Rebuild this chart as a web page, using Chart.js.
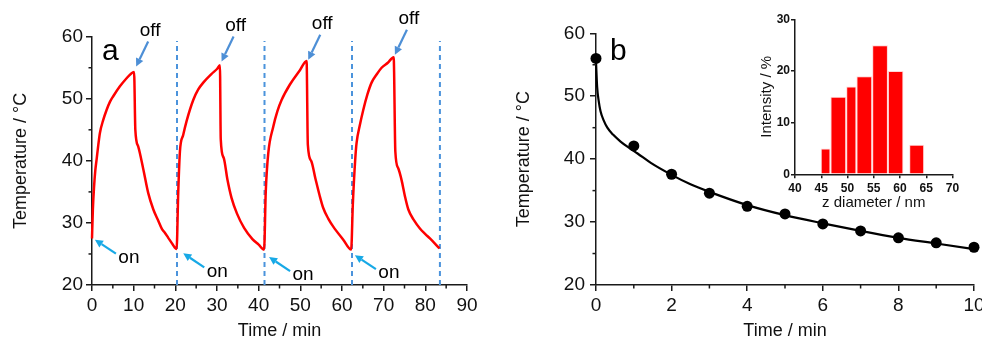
<!DOCTYPE html>
<html>
<head>
<meta charset="utf-8">
<script src="https://cdn.jsdelivr.net/npm/chart.js@4.4.1/dist/chart.umd.min.js"></script>
<style>
  html, body { margin: 0; padding: 0; background: #fff; overflow: hidden; }
  body { width: 982px; height: 338px; position: relative; }
  canvas { position: absolute; top: 0; }
  #chart-a { left: 0; }
  #chart-b { left: 490px; }
  #chart-inset { left: 740px; }
</style>
</head>
<body>
<canvas id="chart-a" width="490" height="345"></canvas>
<canvas id="chart-b" width="500" height="345"></canvas>
<canvas id="chart-inset" width="230" height="215"></canvas>
<script>
// panel a: laser on / off cycles
const cycleTime = [
  0, 0.2, 0.5, 0.8, 1.1, 1.5, 1.9, 2.7, 3.5, 4.3, 5.1, 6.7, 8.3, 9.3, 10.1,
  10.4, 11.1, 12.3, 13.5, 14.7, 15.8, 16.8, 17.4, 18.3, 19.3, 20.3,
  20.7, 21.1, 21.9, 22.7, 24.3, 25.5, 26.7, 28.7, 30.0, 30.7,
  30.9, 31.6, 32.5, 33.5, 34.8, 36.5, 38.5, 40.0, 41.3,
  41.7, 42.3, 43.5, 44.5, 45.5, 47.5, 49.9, 51.5,
  51.8, 52.6, 53.6, 54.6, 55.5, 56.7, 57.9, 60.3, 62.2,
  62.6, 63.2, 63.5, 64.3, 65.1, 66.1, 67.1, 68.3, 69.5, 71.0, 72.4,
  72.8, 73.5, 74.3, 75.1, 75.9, 77.3, 78.7, 80.0, 81.1, 83.4,
];
const cycleTemp = [
  27.5, 32, 35.9, 38.5, 40.2, 42.5, 44.5, 46.6, 48.2, 49.5, 50.4, 52, 53.3, 54, 54.3,
  45, 42.3, 38.7, 34.8, 32.2, 30.5, 29, 28.5, 27.6, 26.6, 25.8,
  35, 41.5, 44.2, 46.4, 49.8, 51.5, 52.6, 54, 54.8, 55.4,
  43.5, 40.5, 37, 34, 31.5, 29.2, 27.4, 26.5, 25.7,
  35, 41.2, 45.5, 48, 49.8, 52.3, 54.6, 56.1,
  42.6, 40, 37.2, 34.5, 32.4, 30.7, 29.4, 27.3, 25.7,
  33, 40.5, 42.9, 45.8, 48.2, 50.7, 52.6, 53.9, 55, 55.8, 56.7,
  41.5, 38.8, 36.9, 34.3, 32.2, 30.4, 29.1, 28.2, 27.5, 25.9,
];
const switchTimes = [20.4, 41.4, 62.4, 83.5];
const dashTop = 59.3;
const offTips = [[10.6, 55.2], [31.1, 56.0], [51.9, 56.3], [72.7, 57.1]];
const onTips = [[0.7, 27.3], [21.9, 25.1], [42.5, 24.5], [63.1, 24.8]];

// panel b: cooling after laser off
const coolTime = [0, 1, 2, 3, 4, 5, 6, 7, 8, 9, 10];
const coolTemp = [56, 42.1, 37.6, 34.6, 32.5, 31.3, 29.7, 28.6, 27.5, 26.7, 26.0];
const fitTime = [0, 0.03, 0.07, 0.12, 0.2, 0.3, 0.45, 0.65, 0.85, 1.1, 1.45, 2, 2.5, 3, 4, 5, 6, 7, 8, 9, 10];
const fitTemp = [55.5, 51.5, 49.3, 47.6, 46.2, 45.0, 43.9, 42.8, 41.9, 40.9, 39.4, 37.5, 36.0, 34.8, 32.7, 31.1, 29.8, 28.6, 27.5, 26.6, 25.7];

// inset: size distribution
const binStart = [44.9, 46.75, 49.75, 51.7, 54.7, 57.7, 61.75];
const binEnd = [46.75, 49.75, 51.7, 54.7, 57.7, 60.65, 64.6];
const intensity = [5, 15, 17, 19, 25, 20, 5.7];

const FONT = "'Liberation Sans', Arial, sans-serif";
const AXIS = '#1a1a1a';
const TEXT = '#111';
const ON_BLUE = '#17a9e6';
const OFF_BLUE = '#4d8fd6';
const DASH_BLUE = '#4b93dc';

function toPoints(xs, ys) {
  return xs.map((x, i) => ({ x, y: ys[i] }));
}

function axis({ min, max, step, tick = 6, size = 19, bold = false, pad = 3, title, titleSize = 18, titlePad, fit }) {
  return {
    type: 'linear',
    min,
    max,
    offset: false,
    grid: { drawOnChartArea: false, drawTicks: true, tickLength: tick, tickColor: AXIS, tickWidth: 1.5, lineWidth: 1.5, offset: false },
    border: { display: true, color: AXIS, width: 1.5 },
    ticks: { stepSize: step, autoSkip: false, maxRotation: 0, padding: pad, color: TEXT, font: { family: FONT, size, weight: bold ? 'bold' : 'normal' } },
    title: { display: true, text: title, color: TEXT, padding: titlePad, font: { family: FONT, size: titleSize } },
    afterFit: fit,
  };
}

function minorTicksPlugin(minor) {
  return {
    id: 'minorTicks',
    afterDraw(chart) {
      const { ctx, scales } = chart;
      ctx.save();
      ctx.strokeStyle = AXIS;
      ctx.lineWidth = 1.5;
      Object.keys(minor).forEach((id) => {
        const s = scales[id];
        const { step, major } = minor[id];
        for (let v = s.min + step; v < s.max; v += step) {
          if (Math.abs(v / major - Math.round(v / major)) < 1e-6) continue;
          const p = s.getPixelForValue(v);
          ctx.beginPath();
          if (id === 'x') {
            ctx.moveTo(p, s.top);
            ctx.lineTo(p, s.top + 3.5);
          } else {
            ctx.moveTo(s.right, p);
            ctx.lineTo(s.right - 3.5, p);
          }
          ctx.stroke();
        }
      });
      ctx.restore();
    },
  };
}

function panelLabelPlugin(text, dx, dy) {
  return {
    id: 'panelLabel',
    afterDraw(chart) {
      const { ctx, chartArea } = chart;
      ctx.save();
      ctx.fillStyle = '#000';
      ctx.font = `30px ${FONT}`;
      ctx.textAlign = 'left';
      ctx.textBaseline = 'alphabetic';
      ctx.fillText(text, chartArea.left + dx, chartArea.top + dy);
      ctx.restore();
    },
  };
}

function drawArrow(ctx, x0, y0, x1, y1, color) {
  const ang = Math.atan2(y1 - y0, x1 - x0);
  const head = 8;
  const bx = x1 - head * Math.cos(ang);
  const by = y1 - head * Math.sin(ang);
  ctx.strokeStyle = color;
  ctx.fillStyle = color;
  ctx.lineWidth = 2.2;
  ctx.beginPath();
  ctx.moveTo(x0, y0);
  ctx.lineTo(bx, by);
  ctx.stroke();
  ctx.beginPath();
  ctx.moveTo(x1, y1);
  ctx.lineTo(bx + 4 * Math.sin(ang), by - 4 * Math.cos(ang));
  ctx.lineTo(bx - 4 * Math.sin(ang), by + 4 * Math.cos(ang));
  ctx.closePath();
  ctx.fill();
}

const onOffNotes = {
  id: 'onOffNotes',
  afterDatasetsDraw(chart) {
    const { ctx, scales: { x, y } } = chart;
    const notes = [
      { tips: offTips, text: 'off', color: OFF_BLUE, tail: [12, -25], label: [14, -36] },
      { tips: onTips, text: 'on', color: ON_BLUE, tail: [21, 14], label: [34, 18] },
    ];
    ctx.save();
    notes.forEach((n) => {
      n.tips.forEach(([tx, ty]) => {
        const px = x.getPixelForValue(tx);
        const py = y.getPixelForValue(ty);
        drawArrow(ctx, px + n.tail[0], py + n.tail[1], px, py, n.color);
        ctx.fillStyle = '#000';
        ctx.font = `19px ${FONT}`;
        ctx.textAlign = 'center';
        ctx.textBaseline = 'middle';
        ctx.fillText(n.text, px + n.label[0], py + n.label[1]);
      });
    });
    ctx.restore();
  },
};

// bars span their own bin edges on the linear axis
const binWidths = {
  id: 'binWidths',
  beforeDatasetsDraw(chart) {
    const xs = chart.scales.x;
    chart.getDatasetMeta(0).data.forEach((bar, i) => {
      const l = xs.getPixelForValue(binStart[i]);
      const r = xs.getPixelForValue(binEnd[i]);
      bar.x = (l + r) / 2;
      bar.width = r - l;
    });
  },
};

new Chart(document.getElementById('chart-a'), {
  type: 'line',
  data: {
    datasets: [
      {
        data: toPoints(cycleTime, cycleTemp),
        borderColor: '#ff0000',
        borderWidth: 2.5,
        pointRadius: 0,
        cubicInterpolationMode: 'monotone',
        clip: false,
        order: 0,
      },
      ...switchTimes.map((t) => ({
        data: [{ x: t, y: 20 }, { x: t, y: dashTop }],
        borderColor: DASH_BLUE,
        borderWidth: 2,
        borderDash: [5, 4],
        pointRadius: 0,
        clip: false,
        order: 1,
      })),
    ],
  },
  options: {
    responsive: false,
    animation: false,
    events: [],
    layout: { padding: { left: 0, top: 36.7, right: 23, bottom: 0 } },
    plugins: { legend: { display: false }, tooltip: { enabled: false } },
    scales: {
      x: axis({ min: 0, max: 90, step: 10, pad: 3, title: 'Time / min', titlePad: { top: 0, bottom: 3 }, fit: (s) => { s.height = 60; } }),
      y: axis({ min: 20, max: 60, step: 10, pad: 3, title: 'Temperature / °C', titlePad: { top: 10, bottom: 0 }, fit: (s) => { s.width = 92; } }),
    },
  },
  plugins: [minorTicksPlugin({ x: { step: 5, major: 10 }, y: { step: 5, major: 10 } }), onOffNotes, panelLabelPlugin('a', 10, 23)],
});

new Chart(document.getElementById('chart-b'), {
  type: 'line',
  data: {
    datasets: [
      {
        data: toPoints(coolTime, coolTemp),
        showLine: false,
        pointRadius: 5.5,
        pointBackgroundColor: '#000',
        pointBorderColor: '#000',
        pointBorderWidth: 0,
        clip: false,
      },
      {
        data: toPoints(fitTime, fitTemp),
        borderColor: '#000',
        borderWidth: 2.2,
        pointRadius: 0,
        cubicInterpolationMode: 'monotone',
        clip: false,
      },
    ],
  },
  options: {
    responsive: false,
    animation: false,
    events: [],
    layout: { padding: { left: 0, top: 33.3, right: 16, bottom: 0 } },
    plugins: { legend: { display: false }, tooltip: { enabled: false } },
    scales: {
      x: axis({ min: 0, max: 10, step: 2, pad: 3, title: 'Time / min', titlePad: { top: 0, bottom: 3 }, fit: (s) => { s.height = 60; } }),
      y: axis({ min: 20, max: 60, step: 10, pad: 5, title: 'Temperature / °C', titlePad: { top: 23, bottom: 0 }, fit: (s) => { s.width = 106; } }),
    },
  },
  plugins: [minorTicksPlugin({ x: { step: 1, major: 2 }, y: { step: 5, major: 10 } }), panelLabelPlugin('b', 14, 27)],
});

new Chart(document.getElementById('chart-inset'), {
  type: 'bar',
  data: {
    datasets: [
      {
        data: intensity.map((v, i) => ({ x: (binStart[i] + binEnd[i]) / 2, y: v })),
        backgroundColor: '#ff0000',
        borderColor: '#ffd6d6',
        borderWidth: 1,
        borderSkipped: 'bottom',
      },
    ],
  },
  options: {
    responsive: false,
    animation: false,
    events: [],
    layout: { padding: { left: 0, top: 19.3, right: 17.5, bottom: 0 } },
    plugins: { legend: { display: false }, tooltip: { enabled: false } },
    scales: {
      x: axis({ min: 40, max: 70, step: 5, tick: 4, size: 12, bold: true, pad: 3, title: 'z diameter / nm', titleSize: 15, titlePad: { top: 0, bottom: 3 }, fit: (s) => { s.height = 40.7; } }),
      y: axis({ min: 0, max: 30, step: 10, tick: 4, size: 12, bold: true, pad: 1, title: 'Intensity / %', titleSize: 15, titlePad: { top: 18, bottom: 0 }, fit: (s) => { s.width = 55; } }),
    },
  },
  plugins: [binWidths],
});
</script>
</body>
</html>
